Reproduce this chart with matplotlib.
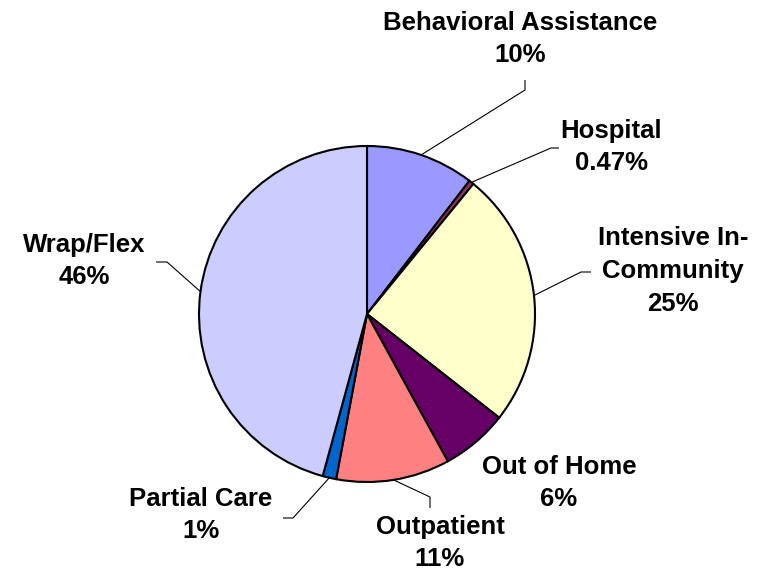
import matplotlib
matplotlib.use("Agg")
import matplotlib.pyplot as plt
import numpy as np

# ---- data ----
categories = ["Behavioral Assistance", "Hospital", "Intensive In-\nCommunity",
              "Out of Home", "Outpatient", "Partial Care", "Wrap/Flex"]
values = [10.4, 0.47, 24.6, 6.4, 10.9, 1.3, 45.6]
pct_labels = ["10%", "0.47%", "25%", "6%", "11%", "1%", "46%"]
colors = ["#9999FF", "#993366", "#FFFFCC", "#660066", "#FF8080", "#0066CC", "#CCCCFF"]

# ---- layout (pixel coordinates, y measured from top) ----
W, H = 760, 576
center = (367, 314)
radius = 168
label_pos = [(520, 39), (611, 147), (673, 271), (559, 483), (440, 543), (201, 515), (84, 261)]
# leader line: elbow point and end point (None = no leader)
leaders = [((525, 90), (525, 80)),
           ((551, 148), (559, 148)),
           ((581, 272), (591, 272)),
           None,
           ((430, 497), (430, 508)),
           ((293, 518), (283, 518)),
           ((167, 262), (156, 262))]

fig = plt.figure(figsize=(W / 100, H / 100), dpi=100)
ax = fig.add_axes([0, 0, 1, 1])
cx, cy = center[0], H - center[1]
wedges, _ = ax.pie(values, colors=colors, startangle=90, counterclock=False,
                   center=(cx, cy), radius=radius,
                   wedgeprops=dict(edgecolor="black", linewidth=1.5))
ax.set_xlim(0, W)
ax.set_ylim(0, H)
ax.set_aspect("equal")
ax.axis("off")

font = dict(family=["Liberation Sans", "DejaVu Sans"], fontsize=18.5,
            fontweight="bold", color="black")

for w, cat, pct, (lx, ly), ld in zip(wedges, categories, pct_labels, label_pos, leaders):
    ax.text(lx, H - ly, f"{cat}\n{pct}", ha="center", va="center",
            linespacing=1.45, **font)
    if ld is not None:
        mid = np.deg2rad((w.theta1 + w.theta2) / 2)
        ex, ey = cx + radius * np.cos(mid), cy + radius * np.sin(mid)
        (bx, by), (tx, ty) = ld
        ax.plot([ex, bx, tx], [ey, H - by, H - ty], color="black", lw=0.8,
                solid_capstyle="butt")

fig.savefig("out.png", dpi=100)
